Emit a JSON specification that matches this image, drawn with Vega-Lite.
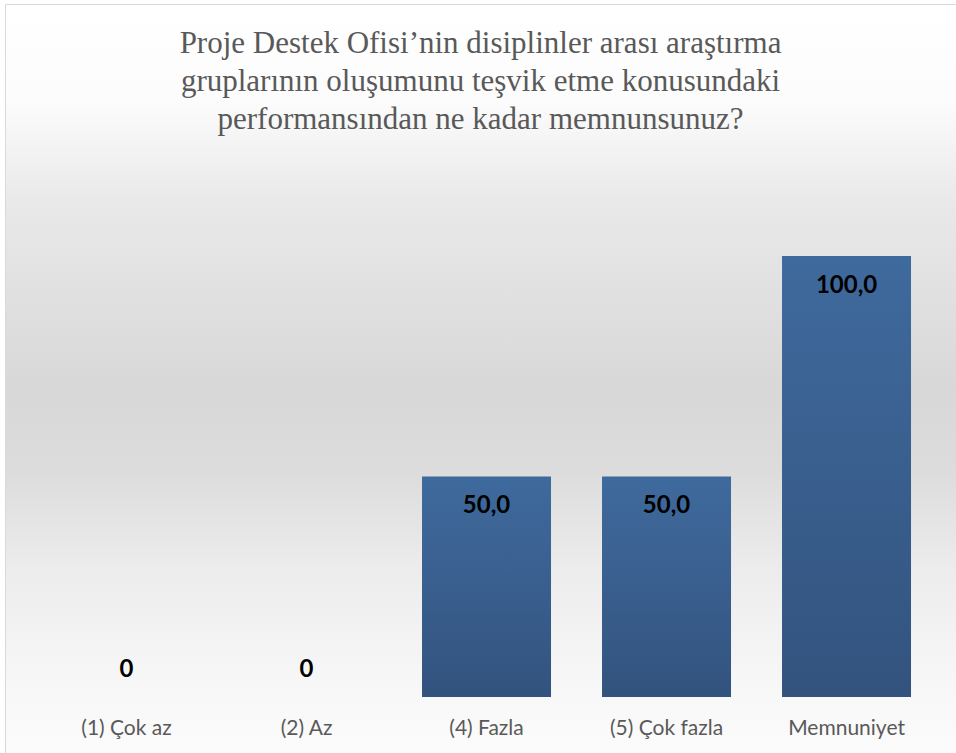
{
  "$schema": "https://vega.github.io/schema/vega-lite/v6.json",
  "autosize": "none",
  "width": 951,
  "height": 749,
  "padding": {"left": 5, "top": 4, "right": 0, "bottom": 0},
  "background": "#ffffff",
  "title": {
    "text": ["Proje Destek Ofisi’nin disiplinler arası araştırma", "gruplarının oluşumunu teşvik etme konusundaki", "performansından ne kadar memnunsunuz?"],
    "anchor": "middle",
    "frame": "group",
    "orient": "top",
    "offset": -132,
    "font": "Liberation Serif",
    "fontSize": 31,
    "fontWeight": "normal",
    "lineHeight": 38,
    "color": "#595959"
  },
  "data": {
    "values": [
      {"category": "(1) Çok az", "value": 0},
      {"category": "(2) Az", "value": 0},
      {"category": "(4) Fazla", "value": 50},
      {"category": "(5) Çok fazla", "value": 50},
      {"category": "Memnuniyet", "value": 100}
    ]
  },
  "transform": [
    {"calculate": "datum.value == 0 ? '0' : replace(format(datum.value, '.1f'), '.', ',')", "as": "label"}
  ],
  "encoding": {
    "x": {
      "field": "category",
      "type": "nominal",
      "sort": null,
      "scale": {"paddingInner": 0.2833, "paddingOuter": 0.2833, "align": 0.559},
      "axis": {
        "title": null,
        "domain": false,
        "ticks": false,
        "grid": false,
        "labelAngle": 0,
        "labelFont": "Lato",
        "labelFontSize": 21,
        "labelColor": "#595959",
        "labelBaseline": "middle",
        "labelPadding": -25
      }
    }
  },
  "layer": [
    {
      "mark": {
        "type": "bar",
        "color": {
          "gradient": "linear", "x1": 0, "y1": 0, "x2": 0, "y2": 1,
          "stops": [{"offset": 0, "color": "#3f6a9d"}, {"offset": 1, "color": "#33537e"}]
        }
      },
      "encoding": {
        "y": {"field": "value", "type": "quantitative", "scale": {"domain": [-12.70, 157.14], "nice": false, "zero": false}, "axis": null},
        "y2": {"datum": 0}
      }
    },
    {
      "transform": [{"filter": "datum.value > 0"}],
      "mark": {"type": "text", "font": "Lato", "fontSize": 24, "fontWeight": "bold", "color": "#000000", "baseline": "middle", "dy": 30},
      "encoding": {
        "y": {"field": "value", "type": "quantitative"},
        "text": {"field": "label"}
      }
    },
    {
      "transform": [{"filter": "datum.value == 0"}],
      "mark": {"type": "text", "font": "Lato", "fontSize": 24, "fontWeight": "bold", "color": "#000000", "baseline": "middle", "dy": -27},
      "encoding": {
        "y": {"field": "value", "type": "quantitative"},
        "text": {"field": "label"}
      }
    }
  ],
  "config": {
    "view": {
      "stroke": "#d9d9d9",
      "strokeWidth": 1,
      "fill": {
        "gradient": "linear", "x1": 0, "y1": 0, "x2": 0, "y2": 1,
        "stops": [
          {"offset": 0, "color": "#ffffff"},
          {"offset": 0.128, "color": "#fcfcfc"},
          {"offset": 0.262, "color": "#e9e9e9"},
          {"offset": 0.511, "color": "#d8d8d8"},
          {"offset": 0.622, "color": "#dcdcdc"},
          {"offset": 0.752, "color": "#ececec"},
          {"offset": 0.903, "color": "#f7f7f7"},
          {"offset": 1, "color": "#fbfbfb"}
        ]
      }
    }
  }
}
